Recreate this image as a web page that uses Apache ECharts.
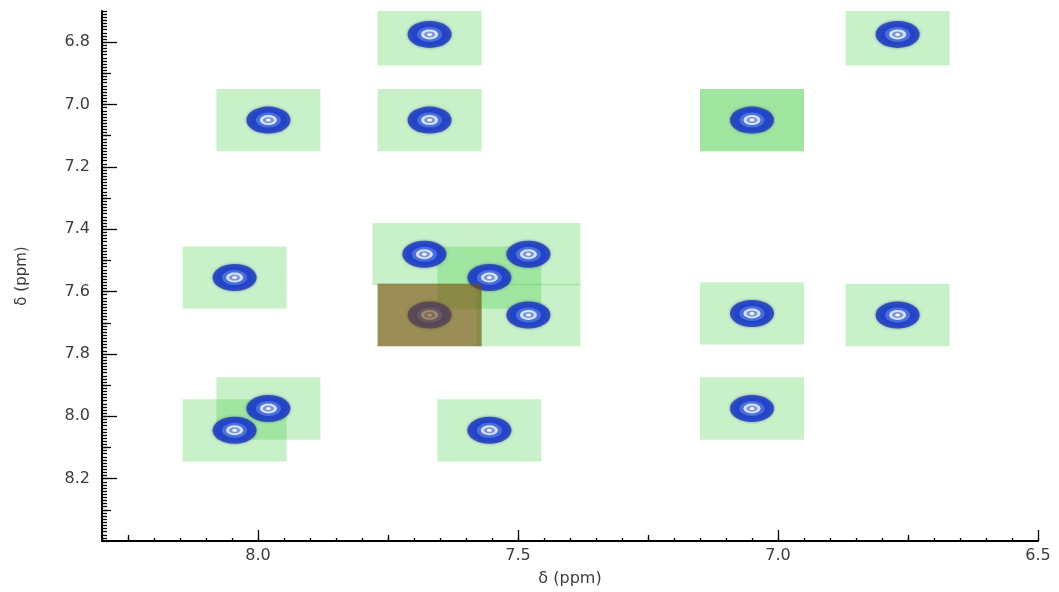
<!DOCTYPE html>
<html><head><meta charset="utf-8">
<script src="https://cdn.jsdelivr.net/npm/echarts@6/dist/echarts.min.js"></script>
<style>html,body{margin:0;padding:0;background:#fff}#c{width:1059px;height:592px}</style>
</head><body><div id="c"></div><script>
// Peak positions (δ x ppm, δ y ppm)
const peakX = [7.67, 6.77, 7.98, 7.67, 7.05, 7.68, 7.48, 7.555, 8.045, 7.67, 7.48, 7.05, 6.77, 7.98, 8.045, 7.555, 7.05];
const peakY = [6.775, 6.775, 7.05, 7.05, 7.05, 7.48, 7.48, 7.555, 7.555, 7.675, 7.675, 7.67, 7.675, 7.975, 8.045, 8.045, 7.975];
// Integration boxes (centres); one region counted twice
const boxX = [7.67, 6.77, 7.98, 7.67, 7.05, 7.05, 7.68, 7.48, 7.555, 8.045, 7.67, 7.48, 7.05, 6.77, 7.98, 8.045, 7.555, 7.05];
const boxY = [6.775, 6.775, 7.05, 7.05, 7.05, 7.05, 7.48, 7.48, 7.555, 7.555, 7.675, 7.675, 7.67, 7.675, 7.975, 8.045, 8.045, 7.975];
// Selected box
const selX = [7.67];
const selY = [7.675];
const boxHalf = 0.1;
// Tick labels
const xMajor = [8.0, 7.5, 7.0, 6.5];
const xMedium = [8.25, 7.75, 7.25, 6.75];
const yMajor = [6.8, 7.0, 7.2, 7.4, 7.6, 7.8, 8.0, 8.2];
const yMedium = [6.9, 7.1, 7.3, 7.5, 7.7, 7.9, 8.1, 8.3];

const peaks = peakX.map((x, i) => [x, peakY[i]]);
const boxes = boxX.map((x, i) => [x, boxY[i]]);
const sel = selX.map((x, i) => [x, selY[i]]);

const FONT = 'DejaVu Sans';
const ELL = 'path://M -1 0 A 1 1 0 1 0 1 0 A 1 1 0 1 0 -1 0 Z';

function boxRender(params, api) {
  const x = api.value(0), y = api.value(1);
  const p1 = api.coord([x + boxHalf, y - boxHalf]);
  const p2 = api.coord([x - boxHalf, y + boxHalf]);
  const r = {x: Math.min(p1[0], p2[0]), y: Math.min(p1[1], p2[1]),
             width: Math.abs(p2[0] - p1[0]), height: Math.abs(p2[1] - p1[1])};
  const cs = params.coordSys;
  const c = echarts.graphic.clipRectByRect(r, {x: cs.x, y: cs.y, width: cs.width, height: cs.height});
  return c && {type: 'rect', shape: c, style: {fill: api.visual('color')}};
}

function layer(size, color, z, extra) {
  return Object.assign({
    type: 'scatter', data: peaks, symbol: ELL, symbolSize: size,
    itemStyle: {color: color, opacity: 1}, z: z, silent: true, animation: false,
    xAxisIndex: 0, yAxisIndex: 0
  }, extra || {});
}

const tickLine = {color: '#000', width: 1.3};
const axisBase = (extra) => Object.assign({
  type: 'value', splitLine: {show: false}, minorSplitLine: {show: false}
}, extra);

const option = {
  animation: false,
  backgroundColor: '#fff',
  textStyle: {fontFamily: FONT},
  grid: {left: 102, right: 21, top: 11, bottom: 51, containLabel: false, outerBoundsMode: 'none'},
  xAxis: [
    axisBase({min: 6.5, max: 8.3, inverse: true, interval: 0.05, position: 'bottom',
      axisLine: {show: true, onZero: false, lineStyle: {color: '#000', width: 2}},
      axisTick: {show: true, inside: true, length: 3, lineStyle: tickLine},
      axisLabel: {show: true, customValues: xMajor, formatter: v => v.toFixed(1), color: '#3c3c3c', fontSize: 16, margin: 7, fontFamily: FONT},
      name: 'δ (ppm)', nameLocation: 'middle', nameGap: 30,
      nameTextStyle: {color: '#3c3c3c', fontSize: 16, fontFamily: FONT}}),
    axisBase({min: 6.5, max: 8.3, inverse: true, interval: 0.05, position: 'bottom', offset: 0,
      axisLine: {show: false}, axisLabel: {show: false},
      axisTick: {show: true, inside: true, length: 6, customValues: xMedium, lineStyle: tickLine}}),
    axisBase({min: 6.5, max: 8.3, inverse: true, interval: 0.05, position: 'bottom', offset: 0,
      axisLine: {show: false}, axisLabel: {show: false},
      axisTick: {show: true, inside: true, length: 11, customValues: xMajor, lineStyle: tickLine}})
  ],
  yAxis: [
    axisBase({min: 6.7, max: 8.4, inverse: true, interval: 0.1, position: 'left',
      axisLine: {show: true, onZero: false, lineStyle: {color: '#000', width: 2}},
      axisTick: {show: true, inside: true, length: 15, customValues: yMajor, lineStyle: tickLine},
      axisLabel: {show: true, customValues: yMajor, formatter: v => v.toFixed(1), color: '#3c3c3c', fontSize: 16, margin: 12, fontFamily: FONT},
      name: 'δ (ppm)', nameLocation: 'middle', nameGap: 72, nameRotate: 90,
      nameTextStyle: {color: '#3c3c3c', fontSize: 15, fontFamily: FONT}}),
    axisBase({min: 6.7, max: 8.4, inverse: true, interval: 0.1, position: 'left', offset: 0,
      axisLine: {show: false}, axisLabel: {show: false},
      axisTick: {show: true, inside: true, length: 9, customValues: yMedium, lineStyle: tickLine}}),
    axisBase({min: 6.7, max: 8.4, inverse: true, interval: 0.01, position: 'left', offset: 0,
      axisLine: {show: false}, axisLabel: {show: false},
      axisTick: {show: true, inside: true, length: 5, lineStyle: tickLine}})
  ],
  series: [
    {type: 'custom', renderItem: boxRender, data: boxes, z: 1, silent: true,
     itemStyle: {color: 'rgba(40,200,40,0.25)'}, xAxisIndex: 0, yAxisIndex: 0},
    layer([44, 27], '#1c38b8', 2, {itemStyle: {color: '#1c38b8', shadowBlur: 3, shadowColor: 'rgba(28,56,184,0.7)'}}),
    layer([35, 21], '#2244cc', 3),
    layer([25, 15], '#4a6fda', 4),
    layer([17, 10], '#d6e2f8', 5),
    layer([11, 6], '#7894de', 6),
    layer([5, 3], '#f4f8ff', 7),
    {type: 'custom', renderItem: boxRender, data: sel, z: 8, silent: true,
     itemStyle: {color: 'rgba(123,75,10,0.6)'}, xAxisIndex: 0, yAxisIndex: 0}
  ]
};

const chart = echarts.init(document.getElementById('c'), null, {renderer: 'canvas'});
chart.setOption(option);
</script></body></html>
